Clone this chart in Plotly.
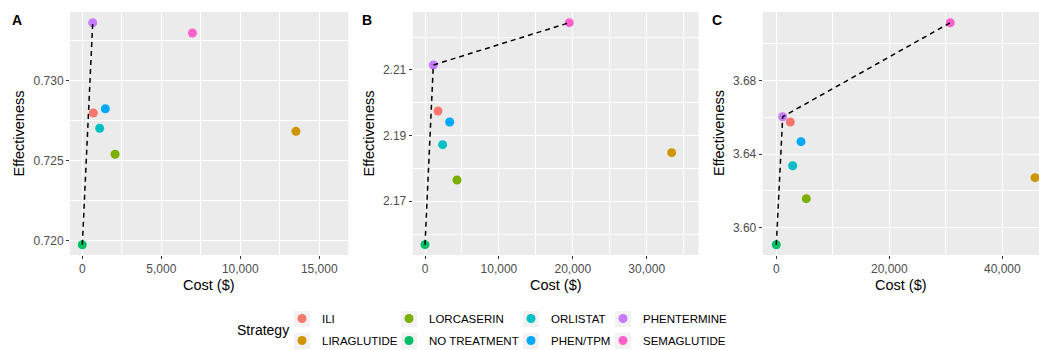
import plotly.graph_objects as go

strategies = ["ILI", "LIRAGLUTIDE", "LORCASERIN", "NO TREATMENT",
              "ORLISTAT", "PHEN/TPM", "PHENTERMINE", "SEMAGLUTIDE"]
colors = ["#F8766D", "#CD9600", "#7CAE00", "#00BE67",
          "#00BFC4", "#00A9FF", "#C77CFF", "#FF61CC"]

cost_A = [697, 13523, 2072, 0, 1100, 1458, 658, 6971]
eff_A = [0.72796, 0.72682, 0.72539, 0.71975, 0.72701, 0.72823, 0.73359, 0.73295]
cost_B = [1760, 33380, 4330, 0, 2390, 3337, 1128, 19530]
eff_B = [2.19751, 2.18482, 2.17649, 2.15678, 2.18726, 2.19416, 2.21152, 2.22441]
cost_C = [2478, 45788, 5310, 0, 2903, 4372, 1133, 30796]
eff_C = [3.65737, 3.62714, 3.61574, 3.59077, 3.63365, 3.64668, 3.66024, 3.71126]

frontier_A = ["NO TREATMENT", "PHENTERMINE"]
frontier_B = ["NO TREATMENT", "PHENTERMINE", "SEMAGLUTIDE"]
frontier_C = ["NO TREATMENT", "PHENTERMINE", "SEMAGLUTIDE"]

panels = [
    ("A", cost_A, eff_A, frontier_A, "x", "y"),
    ("B", cost_B, eff_B, frontier_B, "x2", "y2"),
    ("C", cost_C, eff_C, frontier_C, "x3", "y3"),
]

W, H = 1039, 350
FONT = "Liberation Sans, Arial, sans-serif"

fig = go.Figure()
legend_names = ["legend", "legend2", "legend3", "legend4"]

for pi, (lab, cost, eff, frontier, xa, ya) in enumerate(panels):
    for i, s in enumerate(strategies):
        fig.add_trace(go.Scatter(
            x=[cost[i]], y=[eff[i]], mode="markers", name=s,
            marker=dict(color=colors[i], size=9),
            xaxis=xa, yaxis=ya,
            showlegend=(pi == 0), legend=legend_names[i // 2],
            legendgroup=s, hoverinfo="skip"))
    fx = [cost[strategies.index(s)] for s in frontier]
    fy = [eff[strategies.index(s)] for s in frontier]
    fig.add_trace(go.Scatter(
        x=fx, y=fy, mode="lines", xaxis=xa, yaxis=ya, showlegend=False,
        line=dict(color="black", width=1.5, dash="5px,4px"), hoverinfo="skip"))

# pixel geometry
def px_x(p):
    return p / W

def px_y(p):
    return (H - p) / H

top, bottom = 12, 255
x_domains = [(70, 348.3), (412.7, 698.3), (762.7, 1039)]
x_ranges = [(-780, 16840), (-1664, 36983), (-2407, 46496)]
y_ranges = [(0.71911, 0.73426), (2.15364, 2.22766), (3.58518, 3.71707)]
x_major = [5000, 10000, 20000]
y_major = [(0.72, 0.005), (2.17, 0.02), (3.60, 0.04)]
y_fmt = [".3f", ".2f", ".2f"]

axis_common = dict(
    showgrid=True, gridcolor="white", gridwidth=1.1, zeroline=False,
    showline=False, ticks="outside", ticklen=3, tickwidth=1,
    tickcolor="#333333", tickfont=dict(family=FONT, size=12, color="#4D4D4D"),
    automargin=False,
)

for k in range(3):
    suffix = "" if k == 0 else str(k + 1)
    d0, d1 = x_domains[k]
    fig.layout["xaxis" + suffix] = dict(
        axis_common, domain=[px_x(d0), px_x(d1)], range=list(x_ranges[k]),
        anchor="y" + suffix, tickmode="linear", tick0=0, dtick=x_major[k],
        tickformat=",",
        minor=dict(showgrid=True, gridcolor="white", gridwidth=0.5,
                   tick0=0, dtick=x_major[k] / 2, ticks=""))
    t0, dt = y_major[k]
    fig.layout["yaxis" + suffix] = dict(
        axis_common, domain=[px_y(bottom), px_y(top)], range=list(y_ranges[k]),
        anchor="x" + suffix, tickmode="linear", tick0=t0, dtick=dt,
        tickformat=y_fmt[k],
        minor=dict(showgrid=True, gridcolor="white", gridwidth=0.5,
                   tick0=t0, dtick=dt / 2, ticks=""))

def ann(text, x, y, size, angle=0):
    return dict(text=text, x=px_x(x), y=px_y(y), xref="paper", yref="paper",
                xanchor="center", yanchor="middle", showarrow=False,
                textangle=angle, font=dict(family=FONT, size=size, color="black"))

annotations = []
panel_label_x = [17, 367, 717]
ytitle_x = [18, 368, 718.5]
for k, (lab, *_rest) in enumerate(panels):
    annotations.append(ann("<b>%s</b>" % lab, panel_label_x[k], 20, 14))
    annotations.append(ann("Effectiveness", ytitle_x[k], (top + bottom) / 2, 14.5, -90))
    d0, d1 = x_domains[k]
    annotations.append(ann("Cost ($)", (d0 + d1) / 2, 285, 14.5))
annotations.append(ann("Strategy", 263, 330, 14))

legend_x = [282, 389, 511, 603]
legend_rows = [319, 341]
# light grey legend key backgrounds (ggplot style)
shapes = []
for lx in legend_x:
    for ry in legend_rows:
        cx = lx + 20
        shapes.append(dict(type="rect", xref="paper", yref="paper",
                           x0=px_x(cx - 8), x1=px_x(cx + 8),
                           y0=px_y(ry + 8), y1=px_y(ry - 8),
                           fillcolor="#F2F2F2", line=dict(width=0), layer="below"))

leg_common = dict(orientation="v", xanchor="left", yanchor="top",
                  y=px_y(304), bgcolor="rgba(0,0,0,0)", tracegroupgap=3,
                  font=dict(family=FONT, size=11.5, color="black"),
                  itemclick=False, itemdoubleclick=False)
fig.update_layout(
    width=W, height=H,
    margin=dict(l=0, r=0, t=0, b=0, autoexpand=False),
    paper_bgcolor="white", plot_bgcolor="#EBEBEB",
    annotations=annotations, shapes=shapes,
    legend=dict(leg_common, x=px_x(legend_x[0])),
    legend2=dict(leg_common, x=px_x(legend_x[1])),
    legend3=dict(leg_common, x=px_x(legend_x[2])),
    legend4=dict(leg_common, x=px_x(legend_x[3])),
    font=dict(family=FONT),
)

fig.write_html("out.html",
               config={"displayModeBar": False},
               post_script="document.body.style.margin='0';"
                           "document.body.style.overflow='hidden';")
